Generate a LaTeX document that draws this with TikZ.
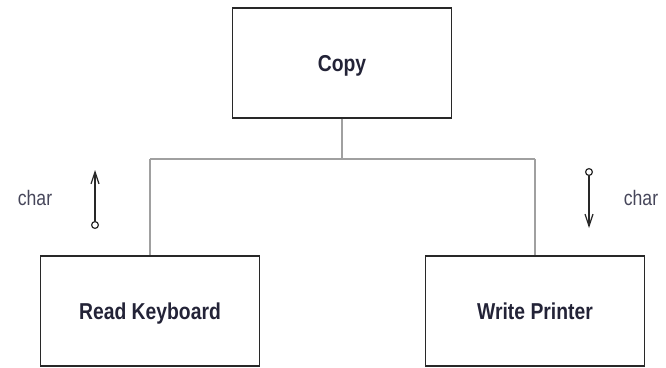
\documentclass[tikz,border=0pt]{standalone}
\usepackage{fontspec}
\setmainfont{Liberation Sans}[FakeStretch=0.84]
\usetikzlibrary{arrows.meta}
\definecolor{boxline}{RGB}{40,40,40}
\definecolor{conn}{RGB}{160,160,160}
\definecolor{txt}{RGB}{35,35,55}
\definecolor{lbl}{RGB}{70,70,90}
\begin{document}
\begin{tikzpicture}[x=1pt,y=-1pt,
  module/.style={draw=boxline,line width=1.4pt,minimum width=219pt,minimum height=110pt,inner sep=0pt,font=\fontsize{23}{26}\selectfont\bfseries,text=txt,text height=16pt,text depth=0pt},
  link/.style={draw=conn,line width=2pt},
  flow/.style={draw=boxline,line width=1.2pt,{Circle[open,length=8pt,width=8pt,fill=white]}-{Straight Barb[length=12pt,width=8pt]}},
  flowlabel/.style={font=\fontsize{21}{24}\selectfont,text=lbl}]
\useasboundingbox (0,0) rectangle (666,367);
\node[module] (copy) at (342,63) {Copy};
\node[module] (read) at (150,311) {Read Keyboard};
\node[module] (write) at (535,311) {Write Printer};
\coordinate (junction) at (342,159);
\coordinate (jl) at (150,159);
\coordinate (jr) at (535,159);
\draw[link] (copy.south) -- (junction);
\draw[link] (jl) -- (jr);
\draw[link] (jl) -- (read.north);
\draw[link] (jr) -- (write.north);
\coordinate (a1s) at (95,229);
\coordinate (a1e) at (95,170);
\coordinate (a2s) at (589,168);
\coordinate (a2e) at (589,228);
\draw[flow] (a1s) -- (a1e);
\draw[flow] (a2s) -- (a2e);
\node[flowlabel] (c1) at (35,198) {char};
\node[flowlabel] (c2) at (641,198) {char};
\end{tikzpicture}
\end{document}
